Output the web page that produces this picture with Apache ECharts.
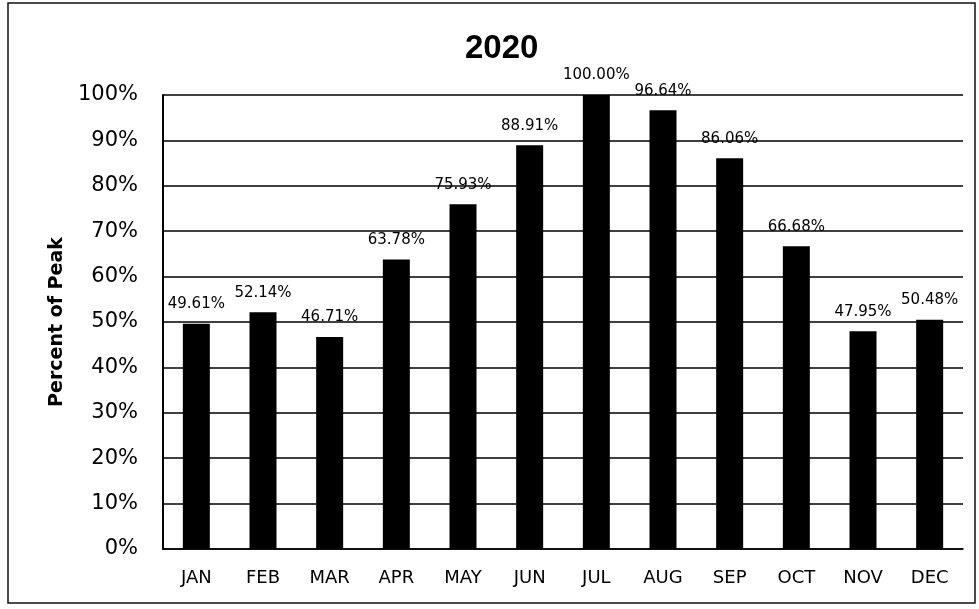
<!DOCTYPE html>
<html>
<head>
<meta charset="utf-8">
<script src="https://cdn.jsdelivr.net/npm/echarts@6/dist/echarts.min.js"></script>
<style>html,body{margin:0;padding:0;background:#fff}#c{width:979px;height:609px}</style>
</head>
<body>
<div id="c"></div>
<script>
const categories = ['JAN','FEB','MAR','APR','MAY','JUN','JUL','AUG','SEP','OCT','NOV','DEC'];
const percentOfPeak = [49.61, 52.14, 46.71, 63.78, 75.93, 88.91, 100.00, 96.64, 86.06, 66.68, 47.95, 50.48];
const chartTitle = '2020';
const yAxisName = 'Percent of Peak';

const chart = echarts.init(document.getElementById('c'), null, {renderer: 'canvas'});
chart.setOption({
  backgroundColor: '#fff',
  animation: false,
  title: {
    text: chartTitle,
    left: 460, top: 27,
    textStyle: {fontFamily: 'Liberation Sans', fontWeight: 'bold', fontSize: 33, color: '#000'}
  },
  graphic: [{
    type: 'rect', shape: {x: 8, y: 3, width: 967, height: 600},
    style: {fill: 'none', stroke: '#111', lineWidth: 1.5}, silent: true
  }],
  grid: {left: 163, right: 16, top: 95, bottom: 60},
  xAxis: {
    type: 'category', data: categories,
    axisLine: {show: true, lineStyle: {color: '#000', width: 1.5}},
    axisTick: {show: false},
    axisLabel: {color: '#000', fontFamily: 'DejaVu Sans', fontSize: 18, margin: 20}
  },
  yAxis: {
    type: 'value', min: 0, max: 100, interval: 10,
    name: yAxisName, nameLocation: 'middle', nameRotate: 90, nameGap: 96,
    nameTextStyle: {fontFamily: 'DejaVu Sans', fontWeight: 'bold', fontSize: 19, color: '#000'},
    axisLine: {show: true, lineStyle: {color: '#000', width: 2}},
    axisTick: {show: false},
    axisLabel: {color: '#000', fontFamily: 'DejaVu Sans', fontSize: 21, margin: 25, formatter: '{value}%'},
    splitLine: {show: true, lineStyle: {color: '#000', width: 1.5}}
  },
  series: [{
    type: 'bar', data: percentOfPeak, barWidth: 27,
    itemStyle: {color: '#000'},
    label: {
      show: true, position: 'top', distance: 12, color: '#000',
      fontFamily: 'DejaVu Sans', fontSize: 15,
      formatter: p => p.value.toFixed(2) + '%'
    }
  }]
});
</script>
</body>
</html>
